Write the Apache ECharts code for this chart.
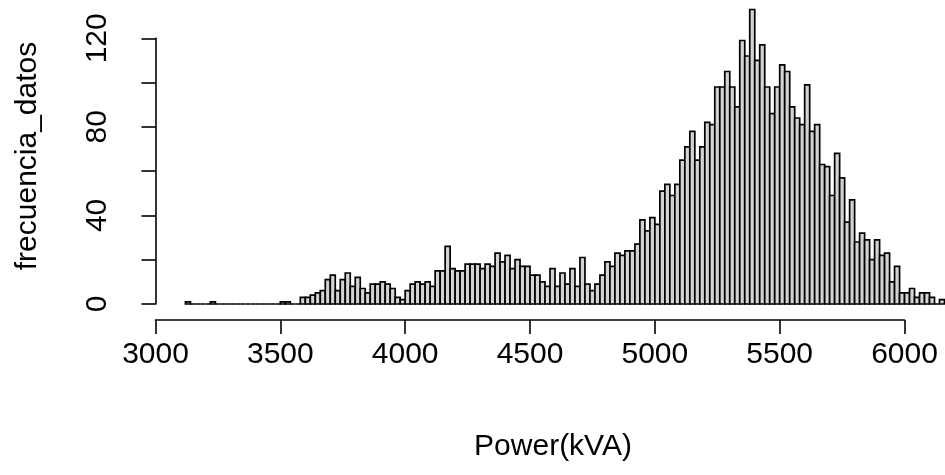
<!DOCTYPE html>
<html><head><meta charset="utf-8">
<script src="https://cdn.jsdelivr.net/npm/echarts@6/dist/echarts.min.js"></script>
<style>html,body{margin:0;padding:0;background:#fff}#c{width:945px;height:475px}</style>
</head><body><div id="c"></div>
<script>
// Histogram bin edges (kVA)
const breaks = [3120,3140,3160,3180,3200,3220,3240,3260,3280,3300,3320,3340,3360,3380,3400,3420,3440,3460,3480,3500,
3520,3540,3560,3580,3600,3620,3640,3660,3680,3700,3720,3740,3760,3780,3800,3820,3840,3860,3880,3900,
3920,3940,3960,3980,4000,4020,4040,4060,4080,4100,4120,4140,4160,4180,4200,4220,4240,4260,4280,4300,
4320,4340,4360,4380,4400,4420,4440,4460,4480,4500,4520,4540,4560,4580,4600,4620,4640,4660,4680,4700,
4720,4740,4760,4780,4800,4820,4840,4860,4880,4900,4920,4940,4960,4980,5000,5020,5040,5060,5080,5100,
5120,5140,5160,5180,5200,5220,5240,5260,5280,5300,5320,5340,5360,5380,5400,5420,5440,5460,5480,5500,
5520,5540,5560,5580,5600,5620,5640,5660,5680,5700,5720,5740,5760,5780,5800,5820,5840,5860,5880,5900,
5920,5940,5960,5980,6000,6020,6040,6060,6080,6100,6120,6140,6160];
// Frequencies per bin
const counts = [1,0,0,0,0,1,0,0,0,0,0,0,0,0,0,0,0,0,0,1,
1,0,0,3,3,4,5,6,11,13,6,11,14,8,12,7,5,9,9,10,
9,7,3,2,6,9,10,9,10,8,15,15,26,16,15,15,18,18,18,16,
18,17,23,19,22,16,20,17,17,13,13,10,8,16,8,14,9,16,8,21,
9,6,9,13,19,17,23,22,24,24,27,38,33,39,36,51,54,49,54,65,
71,78,65,71,82,81,98,98,105,98,89,119,112,133,110,117,98,86,98,108,
105,89,84,81,99,78,81,63,62,49,68,57,37,47,28,32,29,20,29,22,
23,10,17,5,5,7,3,5,5,3,0,2];
const xTicks = [3000,3500,4000,4500,5000,5500,6000];
const yTicks = [0,20,40,60,80,100,120];
const yLabelled = [0,40,80,120];
const xTitle = 'Power(kVA)';
const yTitle = 'frecuencia_datos';

const data = counts.map((c,i)=>[breaks[i], breaks[i+1], c]);
const FONT = 'Liberation Sans, Arial, Helvetica, sans-serif';
const FS = 30;

const chart = echarts.init(document.getElementById('c'), null, {renderer:'canvas'});
chart.setOption({
  animation:false,
  backgroundColor:'#fff',
  grid:[
    {left:155.5, right:0, top:38.3, bottom:171},
    {left:155.5, width:749, top:300, height:20}
  ],
  xAxis:[
    {gridIndex:0, type:'value', min:3000, max:6162, show:false},
    {gridIndex:1, type:'value', min:xTicks[0], max:xTicks[xTicks.length-1], interval:500,
     axisLine:{show:true, lineStyle:{color:'#000', width:1.6}},
     axisTick:{show:true, length:14, lineStyle:{color:'#000', width:1.6}},
     axisLabel:{show:true, margin:20, color:'#000', fontSize:FS, fontFamily:FONT,
       formatter:v=>String(v)},
     splitLine:{show:false}}
  ],
  yAxis:[
    {gridIndex:0, type:'value', min:yTicks[0], max:yTicks[yTicks.length-1], interval:20,
     axisLine:{show:true, lineStyle:{color:'#000', width:1.6}},
     axisTick:{show:true, length:14, lineStyle:{color:'#000', width:1.6}},
     axisLabel:{show:true, rotate:90, margin:43, color:'#000', fontSize:FS, fontFamily:FONT,
       formatter:v=> yLabelled.indexOf(v)>=0 ? String(v) : ''},
     splitLine:{show:false}},
    {gridIndex:1, type:'value', show:false}
  ],
  series:[{
    type:'custom', xAxisIndex:0, yAxisIndex:0, clip:false,
    encode:{x:[0,1], y:2},
    data:data,
    renderItem:function(params, api){
      const p0 = api.coord([api.value(0), 0]);
      const p1 = api.coord([api.value(1), api.value(2)]);
      return {type:'rect', shape:{x:p0[0], y:p1[1], width:p1[0]-p0[0], height:p0[1]-p1[1]},
        style:{fill:'#d3d3d3', stroke:'#000', lineWidth:1.7}};
    }
  }],
  graphic:[
    {type:'text', x:553, y:447, style:{text:xTitle, textAlign:'center', textVerticalAlign:'middle', fontSize:FS, fontFamily:FONT, fill:'#000'}},
    {type:'text', x:28, y:156, rotation:Math.PI/2, style:{text:yTitle, textAlign:'center', textVerticalAlign:'middle', fontSize:FS, fontFamily:FONT, fill:'#000'}}
  ]
});
</script></body></html>
